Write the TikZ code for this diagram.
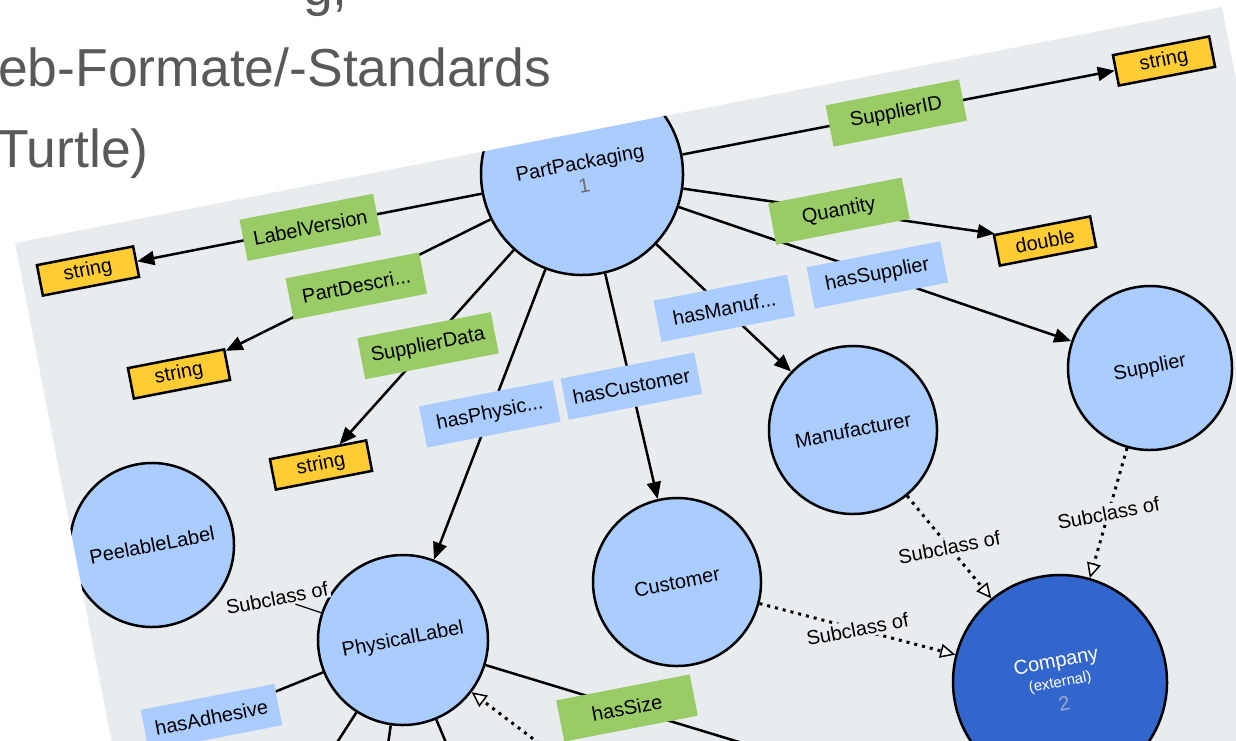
\documentclass[tikz,border=0pt]{standalone}
\usepackage{fontspec}
\setmainfont{Liberation Sans}
\usetikzlibrary{arrows.meta,calc}

\definecolor{panel}{HTML}{E9ECEE}
\definecolor{classblue}{HTML}{AACCFF}
\definecolor{extblue}{HTML}{3366CC}
\definecolor{dtyellow}{HTML}{FFCC33}
\definecolor{dpgreen}{HTML}{99CC66}
\definecolor{titlegray}{HTML}{595959}
\definecolor{numgray}{HTML}{6B6B6B}
\definecolor{extnum}{HTML}{9AAAC8}

\newcommand\vowlfont{\fontsize{20}{24}\selectfont}

\tikzset{
  cls/.style={circle, draw=black, line width=2.5pt, fill=classblue, inner sep=0pt,
    rotate=11, align=center, font=\vowlfont},
  extcls/.style={cls, fill=extblue, text=white},
  dtype/.style={rectangle, draw=black, line width=2.5pt, fill=dtyellow, inner sep=0pt,
    minimum width=98, minimum height=31, rotate=11, font=\vowlfont},
  dprop/.style={rectangle, fill=dpgreen, inner sep=0pt, minimum width=136,
    minimum height=42, rotate=11, font=\vowlfont},
  oprop/.style={dprop, fill=classblue},
  subl/.style={fill=panel, inner sep=2pt, rotate=11, font=\vowlfont},
  link/.style={line width=2.5pt},
  arr/.style={link, -{Triangle[length=17pt,width=14pt]}},
  subline/.style={line width=3pt, dash pattern=on 3pt off 5pt},
  subarr/.style={subline, -{Triangle[length=15pt,width=14pt,fill=white,line width=1.5pt]}},
  title/.style={inner sep=0pt, anchor=base west, text=titlegray,
    font=\fontsize{53.5}{60}\selectfont}
}

\begin{document}
\begin{tikzpicture}[x=1pt,y=-1pt]
\useasboundingbox (0,0) rectangle (1236,741);
\fill[panel] (15,243) -- (1222,7) -- (1376,800) -- (123,800) -- cycle;

\begin{scope}
\clip (15,243) -- (1222,7) -- (1376,800) -- (123,800) -- cycle;

% classes
\node[cls, minimum size=202] (pp) at (582,174) {PartPackaging\\\textcolor{numgray}{1}};
\node[cls, minimum size=164] (sup) at (1150,368) {Supplier};
\node[cls, minimum size=168] (man) at (853,430) {Manufacturer};
\node[cls, minimum size=168] (cus) at (677,582) {Customer};
\node[cls, minimum size=164] (peel) at (152,545) {PeelableLabel};
\node[cls, minimum size=170] (phys) at (403,640) {PhysicalLabel};
\node[extcls, minimum size=214] (comp) at (1060,682)
  {Company\\[-4pt]{\fontsize{15}{16}\selectfont(external)}\\\textcolor{extnum}{2}};

% datatypes
\node[dtype] (s1) at (1164,61) {string};
\node[dtype] (s2) at (88,271) {string};
\node[dtype] (s3) at (179,374) {string};
\node[dtype] (s4) at (321,465) {string};
\node[dtype] (dbl) at (1045,241) {double};

% ends outside the view
\coordinate (adhT) at (20,795);
\coordinate (sizeT) at (851,776);
\coordinate (inT) at (603,792);
\coordinate (bl1) at (300,800);
\coordinate (bl2) at (380,800);
\coordinate (bl3) at (470,800);

% properties of PartPackaging
\draw[arr] (pp) -- (s1);
\draw[arr] (pp) -- (s2);
\draw[arr] (pp) -- (s3);
\draw[arr] (pp) -- (s4);
\draw[arr] (pp) -- (dbl);
\draw[arr] (pp) -- (sup);
\draw[arr] (pp) -- (man);
\draw[arr] (pp) -- (cus);
\draw[arr] (pp) -- (phys);

% PhysicalLabel
\draw[link] (phys) -- (adhT);
\draw[link] (phys) -- (sizeT);
\draw[link] (phys) -- (bl1);
\draw[link] (phys) -- (bl2);
\draw[link] (phys) -- (bl3);
\draw[subarr] (inT) -- (phys);

% subclass links
\draw[subarr] (man) -- node[subl] (sc1) {Subclass of} (comp);
\draw[subarr] (sup) -- node[subl] (sc2) {Subclass of} (comp);
\draw[subarr] (cus) -- node[subl] (sc3) {Subclass of} (comp);
\node[subl] (sc4) at (277,598) {Subclass of};
\draw[line width=1.2pt] (sc4) -- (phys);

% property labels
\node[dprop] (sid) at ($(pp)!0.54!(s1)$) {SupplierID};
\node[dprop] (lv) at ($(pp)!0.55!(s2)$) {LabelVersion};
\node[dprop] (pd) at ($(pp)!0.56!(s3)$) {PartDescri...};
\node[dprop] (sd) at ($(pp)!0.59!(s4)$) {SupplierData};
\node[dprop] (qty) at ($(pp)!0.555!(dbl)$) {Quantity};
\node[oprop] (hsup) at ($(pp)!0.52!(sup)$) {hasSupplier};
\node[oprop] (hman) at ($(pp)!0.525!(man)$) {hasManuf...};
\node[oprop] (hcus) at ($(pp)!0.52!(cus)$) {hasCustomer};
\node[oprop] (hphy) at ($(pp)!0.515!(phys)$) {hasPhysic...};
\node[oprop] (hadh) at ($(phys)!0.5!(adhT)$) {hasAdhesive};
\node[dprop] (hsize) at ($(phys)!0.5!(sizeT)$) {hasSize};
\end{scope}

% slide text
\node[title] (t0) at (303,6) {g,};
\node[title] (t1) at (-2,87) {eb-Formate/-Standards};
\node[title] (t2) at (-4,167) {Turtle)};
\end{tikzpicture}
\end{document}
